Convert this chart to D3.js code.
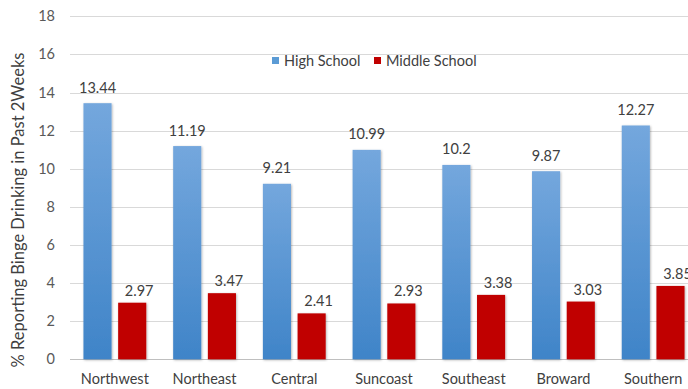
<!DOCTYPE html>
<html>
<head>
<meta charset="utf-8">
<script src="https://cdn.jsdelivr.net/npm/d3@7"></script>
<style>
  html, body { margin: 0; padding: 0; background: #fff; }
  svg { display: block; font-family: Lato, "Open Sans", "Liberation Sans", sans-serif; }
</style>
</head>
<body>
<svg id="chart" width="688" height="389"></svg>
<script>
// Regions and the two school-level series
const regions = ["Northwest", "Northeast", "Central", "Suncoast", "Southeast", "Broward", "Southern"];
const highSchool = [13.44, 11.19, 9.21, 10.99, 10.2, 9.87, 12.27];
const middleSchool = [2.97, 3.47, 2.41, 2.93, 3.38, 3.03, 3.85];
const seriesNames = ["High School", "Middle School"];
const yTicks = [0, 2, 4, 6, 8, 10, 12, 14, 16, 18];

const svg = d3.select("#chart");
const W = 688;

const x0 = d3.scaleBand().domain(regions).range([70, 698]).paddingInner(0.3).paddingOuter(0.15);
const x1 = d3.scaleBand().domain(seriesNames).range([0, x0.bandwidth()]).paddingInner(0.19);
const y = d3.scaleLinear().domain([0, 18]).range([359.3, 16.3]);

// gradient for the high school bars
const defs = svg.append("defs");
const g = defs.append("linearGradient").attr("id", "hsGrad").attr("x1", 0).attr("y1", 0).attr("x2", 0).attr("y2", 1);
g.append("stop").attr("offset", "0%").attr("stop-color", "#74a7dd");
g.append("stop").attr("offset", "100%").attr("stop-color", "#3f84c8");
const sh = defs.append("filter").attr("id", "shadow").attr("x", "-20%").attr("y", "-5%").attr("width", "140%").attr("height", "110%");
sh.append("feDropShadow").attr("dx", 0.8).attr("dy", 0.8).attr("stdDeviation", 0.8).attr("flood-color", "#000").attr("flood-opacity", 0.3);

// gridlines
svg.append("g").selectAll("line").data(yTicks).join("line")
  .attr("x1", 70).attr("x2", W)
  .attr("y1", d => Math.round(y(d)) + 0.5).attr("y2", d => Math.round(y(d)) + 0.5)
  .attr("stroke", d => d === 0 ? "#bfbfbf" : "#d9d9d9").attr("stroke-width", 1);

// y tick labels
svg.append("g").selectAll("text").data(yTicks).join("text")
  .attr("x", 55).attr("y", d => y(d)).attr("dy", "0.35em")
  .attr("text-anchor", "end").attr("font-size", 14.5).attr("fill", "#595959")
  .text(d => d);

// y axis title
svg.append("text")
  .attr("transform", "translate(24,210) rotate(-90)")
  .attr("text-anchor", "middle").attr("font-size", 16.5).attr("fill", "#404040")
  .text("% Reporting Binge Drinking in Past 2Weeks");

// bars
const rows = regions.map((r, i) => ({ region: r, vals: [
  { s: "High School", v: highSchool[i] },
  { s: "Middle School", v: middleSchool[i] }
]}));
const fills = { "High School": "url(#hsGrad)", "Middle School": "#c00000" };
const labelShift = { "High School": [0, 10.5], "Middle School": [7, 7] };

const grp = svg.append("g").selectAll("g").data(rows).join("g")
  .attr("transform", d => `translate(${x0(d.region)},0)`);

grp.selectAll("rect").data(d => d.vals).join("rect")
  .attr("x", d => x1(d.s)).attr("width", x1.bandwidth())
  .attr("y", d => y(d.v)).attr("height", d => y(0) - y(d.v))
  .attr("fill", d => fills[d.s]).attr("filter", "url(#shadow)");

grp.selectAll("text").data(d => d.vals).join("text")
  .attr("x", d => x1(d.s) + x1.bandwidth() / 2 + labelShift[d.s][0])
  .attr("y", d => y(d.v) - labelShift[d.s][1])
  .attr("text-anchor", "middle").attr("font-size", 14.5).attr("fill", "#404040")
  .text(d => d.v);

// category labels
svg.append("g").selectAll("text").data(regions).join("text")
  .attr("x", d => x0(d) + x0.bandwidth() / 2).attr("y", 384)
  .attr("text-anchor", "middle").attr("font-size", 14.5).attr("fill", "#404040")
  .text(d => d);

// legend
const legend = svg.append("g");
const legendItems = [
  { s: "High School", x: 272, color: "#5b9bd5" },
  { s: "Middle School", x: 374, color: "#c00000" }
];
legend.selectAll("rect").data(legendItems).join("rect")
  .attr("x", d => d.x).attr("y", 57).attr("width", 7).attr("height", 7)
  .attr("fill", d => d.color);
legend.selectAll("text").data(legendItems).join("text")
  .attr("x", d => d.x + 12).attr("y", 61).attr("dy", "0.35em")
  .attr("font-size", 14.5).attr("fill", "#404040")
  .text(d => d.s);
</script>
</body>
</html>
